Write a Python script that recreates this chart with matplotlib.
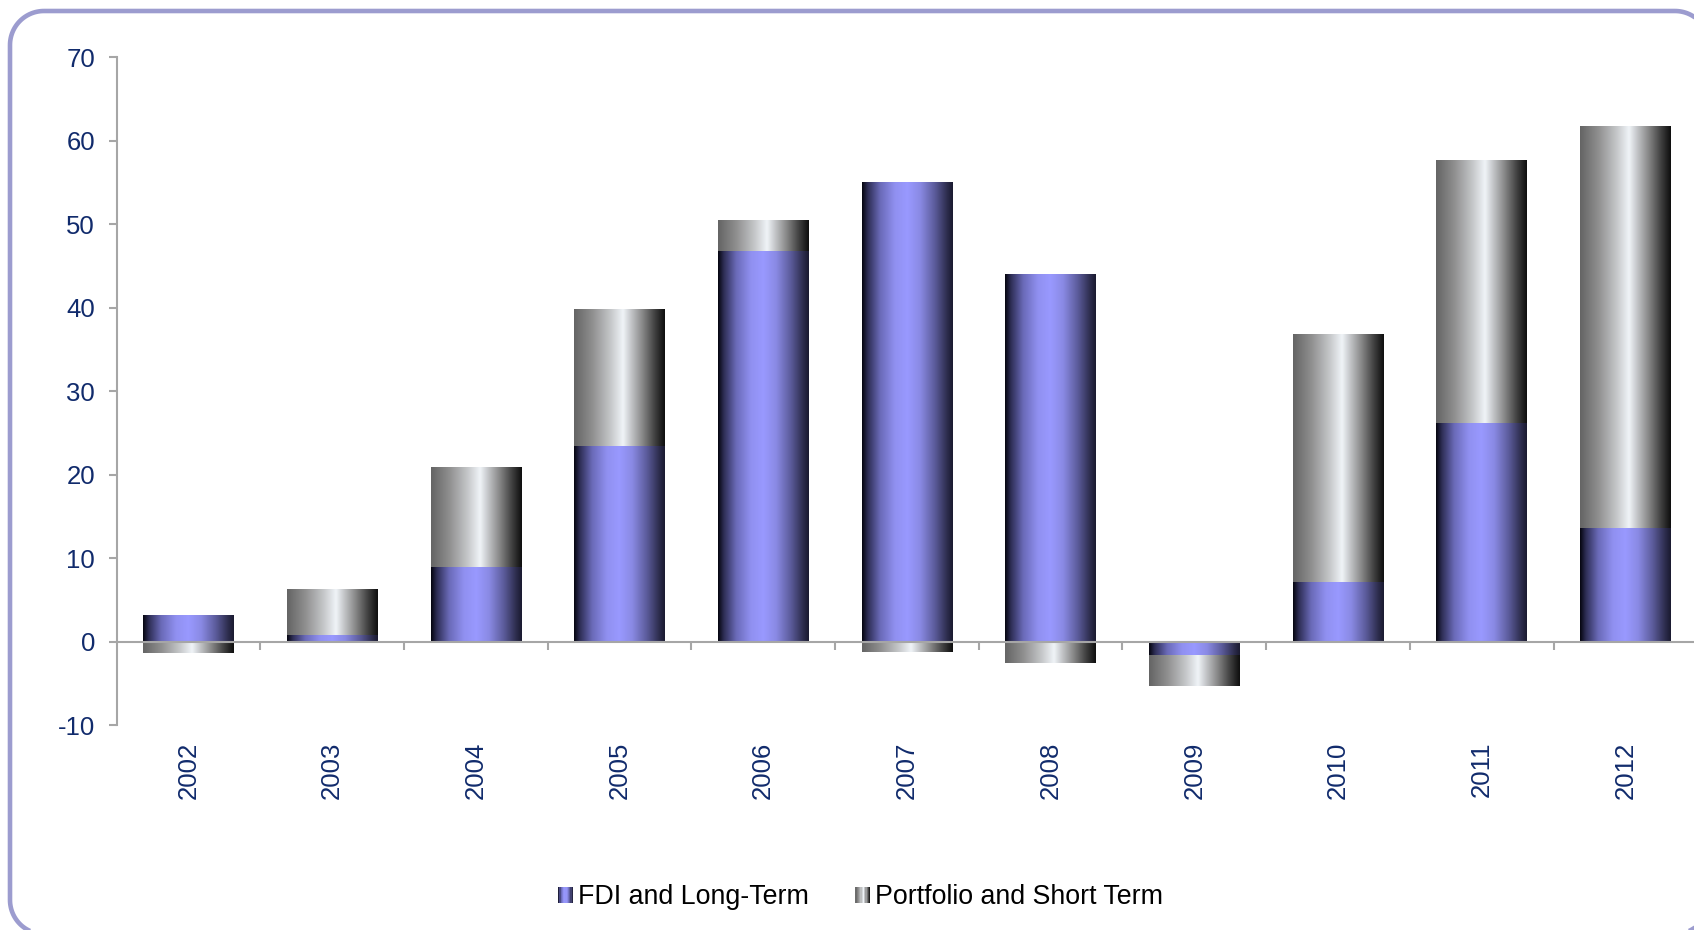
#!/usr/bin/env python3
# -*- coding: utf-8 -*-
"""
stacked capital flow bars, 2002 - 2012
bars with a cylinder-like horizontal gradient, rounded frame around the chart
"""

import numpy as np
import matplotlib
matplotlib.use( "Agg" )
import matplotlib.pyplot as plt
from matplotlib.colors import LinearSegmentedColormap
from matplotlib.patches import Rectangle, PathPatch
from matplotlib.path import Path
from matplotlib.legend_handler import HandlerBase
from matplotlib.transforms import IdentityTransform


# data
#______________________________________________________________________________
years     = [ "2002", "2003", "2004", "2005", "2006", "2007",
              "2008", "2009", "2010", "2011", "2012" ]
fdi       = [ 3.2, 0.8, 8.9, 23.4, 46.8, 55.0, 44.0, -1.7, 7.2, 26.2, 13.6 ]
portfolio = [ -1.4, 5.5, 11.9, 16.3, 3.7, -1.2, -2.5, -3.6, 29.6, 31.4, 48.1 ]

labels    = [ "FDI and Long-Term", "Portfolio and Short Term" ]
yticks    = [ -10, 0, 10, 20, 30, 40, 50, 60, 70 ]


# styles
#______________________________________________________________________________
navy      = "#112b6c"
axisgrey  = "#a6a6a6"
framecol  = "#9c9ccf"

cmap_fdi  = LinearSegmentedColormap.from_list( "fdi", [
              ( 0.00, "#05050f" ), ( 0.06, "#2c2c52" ), ( 0.20, "#6a6ab8" ),
              ( 0.36, "#9090f0" ), ( 0.50, "#9999ff" ), ( 0.64, "#8a8ae4" ),
              ( 0.80, "#5c5c9c" ), ( 0.94, "#2c2c4c" ), ( 1.00, "#1a1a30" ) ] )
cmap_port = LinearSegmentedColormap.from_list( "port", [
              ( 0.00, "#646464" ), ( 0.20, "#8f8f8f" ), ( 0.40, "#c4c6c8" ),
              ( 0.54, "#f0f4f8" ), ( 0.62, "#c8cacd" ), ( 0.76, "#858585" ),
              ( 0.90, "#3c3c3c" ), ( 1.00, "#0e0e0e" ) ] )

plt.rcParams["font.family"]        = [ "Liberation Sans", "DejaVu Sans" ]
plt.rcParams["axes.unicode_minus"] = False


# stacking: positives on positives, negatives on negatives
#______________________________________________________________________________
fdi       = np.array( fdi )
portfolio = np.array( portfolio )
x         = np.arange( len( years ) )
bottom2   = np.where( np.sign( portfolio ) == np.sign( fdi ), fdi, 0.0 )


# figure
#______________________________________________________________________________
fig = plt.figure( figsize = ( 16.94, 9.30 ), dpi = 100 )
ax  = fig.add_axes( [ 0.0688, 0.2202, 0.9331, 0.7182 ] )

bars1 = ax.bar( x, fdi,       width = 0.63, color = "none", edgecolor = "none" )
bars2 = ax.bar( x, portfolio, width = 0.63, bottom = bottom2,
                color = "none", edgecolor = "none" )

gradient = np.linspace( 0, 1, 256 ).reshape( 1, -1 )

def paint( container, cmap ):
    for p in container.patches:
        x0, y0 = p.get_x(), p.get_y()
        w,  h  = p.get_width(), p.get_height()
        if h == 0:
            continue
        ax.imshow( gradient, cmap = cmap, aspect = "auto",
                   extent = [ x0, x0 + w, min( y0, y0 + h ), max( y0, y0 + h ) ],
                   interpolation = "bicubic", zorder = 2 )

paint( bars1, cmap_fdi  )
paint( bars2, cmap_port )


# axes
#______________________________________________________________________________
ax.set_xlim( -0.5, len( years ) - 0.5 )
ax.set_ylim( -10, 70 )

for s in [ "top", "right" ]:
    ax.spines[s].set_visible( False )
ax.spines["left"].set_color( axisgrey )
ax.spines["left"].set_linewidth( 1.5 )
ax.spines["bottom"].set_position( ( "data", 0 ) )
ax.spines["bottom"].set_color( axisgrey )
ax.spines["bottom"].set_linewidth( 1.5 )
ax.spines["bottom"].set_zorder( 3 )

ax.set_yticks( yticks )
ax.tick_params( axis = "y", direction = "out", length = 5.5, width = 1.5,
                color = axisgrey, labelcolor = navy, labelsize = 18.5, pad = 10 )

# boundary ticks on the zero line, labels at the category centres
ax.set_xticks( x[:-1] + 0.5 )
ax.set_xticklabels( [] )
ax.set_xticks( x, minor = True )
ax.set_xticklabels( years, minor = True, rotation = 90, va = "top" )
ax.tick_params( axis = "x", which = "major", direction = "out", length = 6,
                width = 1.5, color = axisgrey )
ax.tick_params( axis = "x", which = "minor", length = 0, labelcolor = navy,
                labelsize = 18.5, pad = 72 )


# legend with gradient squares
#______________________________________________________________________________
class GradHandler( HandlerBase ):
    def __init__( self, cmap ):
        super().__init__()
        self.cmap = cmap

    def create_artists( self, legend, orig_handle, xdescent, ydescent,
                        width, height, fontsize, trans ):
        n    = 12
        arts = []
        for i in range( n ):
            arts.append( Rectangle( ( -xdescent + i * width / n, -ydescent ),
                                    width / n, height,
                                    facecolor = self.cmap( ( i + 0.5 ) / n ),
                                    edgecolor = "none", transform = trans ) )
        return arts

h1 = Rectangle( ( 0, 0 ), 1, 1 )
h2 = Rectangle( ( 0, 0 ), 1, 1 )
fig.legend( [ h1, h2 ], labels,
            handler_map = { h1 : GradHandler( cmap_fdi ), h2 : GradHandler( cmap_port ) },
            loc = "center", bbox_to_anchor = ( 0.508, 0.035 ), ncol = 2,
            frameon = False, fontsize = 19.3, handlelength = 0.55, handleheight = 0.52,
            handletextpad = 0.18, columnspacing = 1.75 )


# rounded frame, in pixels (origin bottom left), corners as circle arcs
#______________________________________________________________________________
fx0, fy0, fx1, fy1, r = 10, -4, 1709, 919, 34

t     = np.linspace( 0, np.pi / 2, 30 )
verts = []
verts += list( zip( fx1 - r + r * np.cos( t ),         fy1 - r + r * np.sin( t ) ) )
verts += list( zip( fx0 + r - r * np.sin( t ),         fy1 - r + r * np.cos( t ) ) )
verts += list( zip( fx0 + r - r * np.cos( t ),         fy0 + r - r * np.sin( t ) ) )
verts += list( zip( fx1 - r + r * np.sin( t ),         fy0 + r - r * np.cos( t ) ) )
verts.append( verts[0] )

frame = PathPatch( Path( verts ), transform = IdentityTransform(),
                   facecolor = "none", edgecolor = framecol, linewidth = 3.3,
                   clip_on = False )
fig.add_artist( frame )

fig.savefig( "out.png", dpi = 100 )
